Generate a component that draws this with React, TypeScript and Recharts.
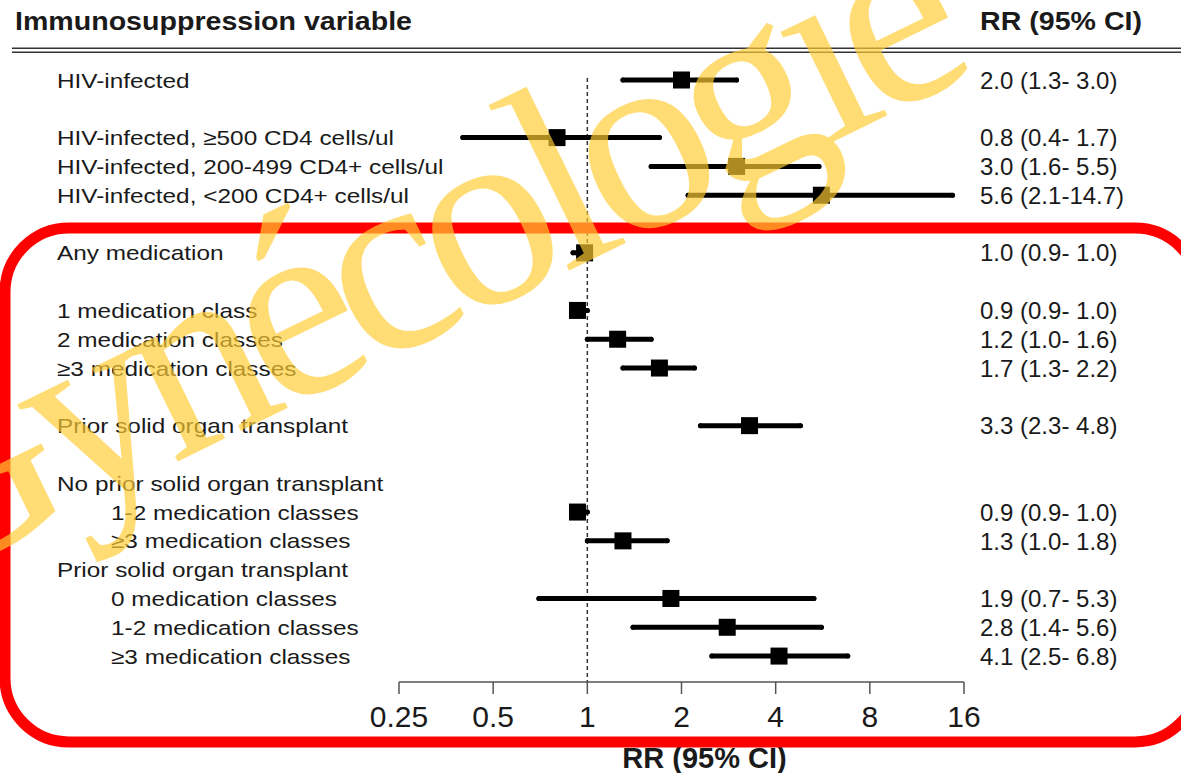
import React from 'react';
import { ScatterChart, Scatter, XAxis, YAxis, ErrorBar, ReferenceLine } from 'recharts';

const FONT = '"Liberation Sans", Arial, Helvetica, sans-serif';

// left column: every row label with its row position (0 = top)
const rowLabels = [
  'HIV-infected',
  'HIV-infected, ≥500 CD4 cells/ul',
  'HIV-infected, 200-499 CD4+ cells/ul',
  'HIV-infected, <200 CD4+ cells/ul',
  'Any medication',
  '1 medication class',
  '2 medication classes',
  '≥3 medication classes',
  'Prior solid organ transplant',
  'No prior solid organ transplant',
  '1-2 medication classes',
  '≥3 medication classes',
  'Prior solid organ transplant',
  '0 medication classes',
  '1-2 medication classes',
  '≥3 medication classes',
];
const rowPos = [0, 2, 3, 4, 6, 8, 9, 10, 12, 14, 15, 16, 17, 18, 19, 20];
const rowIndent = [false, false, false, false, false, false, false, false, false, false, true, true, false, true, true, true];

// estimates
const estimateRow = [0, 2, 3, 4, 6, 8, 9, 10, 12, 15, 16, 18, 19, 20];
const rr = [2.0, 0.8, 3.0, 5.6, 0.98, 0.93, 1.25, 1.7, 3.3, 0.93, 1.3, 1.85, 2.8, 4.1];
const lower = [1.3, 0.4, 1.6, 2.1, 0.9, 0.9, 1.0, 1.3, 2.3, 0.9, 1.0, 0.7, 1.4, 2.5];
const upper = [3.0, 1.7, 5.5, 14.7, 1.0, 1.0, 1.6, 2.2, 4.8, 1.0, 1.8, 5.3, 5.6, 6.8];
const ciText = [
  '2.0 (1.3- 3.0)',
  '0.8 (0.4- 1.7)',
  '3.0 (1.6- 5.5)',
  '5.6 (2.1-14.7)',
  '1.0 (0.9- 1.0)',
  '0.9 (0.9- 1.0)',
  '1.2 (1.0- 1.6)',
  '1.7 (1.3- 2.2)',
  '3.3 (2.3- 4.8)',
  '0.9 (0.9- 1.0)',
  '1.3 (1.0- 1.8)',
  '1.9 (0.7- 5.3)',
  '2.8 (1.4- 5.6)',
  '4.1 (2.5- 6.8)',
];

const xTicks = [0.25, 0.5, 1, 2, 4, 8, 16];

const data = estimateRow.map((row, i) => ({
  row,
  rr: rr[i],
  err: [rr[i] - lower[i], upper[i] - rr[i]],
}));

const LeftTick = (props: any) => {
  const { y, payload } = props;
  const i = rowPos.indexOf(payload.value);
  if (i < 0) return null;
  const x0 = rowIndent[i] ? 111 : 57;
  return (
    <text transform={`translate(${x0},${y}) scale(1.16,1)`} dy="0.36em" fontSize={21} fill="#1a1a1a" fontFamily={FONT}>
      {rowLabels[i]}
    </text>
  );
};

const RightTick = (props: any) => {
  const { y, payload } = props;
  const i = estimateRow.indexOf(payload.value);
  if (i < 0) return null;
  return (
    <text x={980} y={y} dy="0.36em" fontSize={24} fill="#1a1a1a" fontFamily={FONT}>
      {ciText[i]}
    </text>
  );
};

const Box = (props: any) => {
  const { cx, cy } = props;
  return <rect x={cx - 8.5} y={cy - 8.5} width={17} height={17} fill="#000" />;
};

export default function App() {
  return (
    <div style={{ position: 'absolute', left: 0, top: 0, width: 1181, height: 773, background: '#fff', fontFamily: FONT }}>
      <ScatterChart width={1181} height={773} margin={{ top: 65.6, right: 17, bottom: 31, left: 9 }}>
        <XAxis
          dataKey="rr"
          type="number"
          scale="log"
          domain={[0.25, 16]}
          allowDataOverflow
          ticks={xTicks}
          interval={0}
          tickFormatter={(v: number) => String(v)}
          tickSize={12}
          tickMargin={12}
          height={60}
          stroke="#555"
          strokeWidth={1.5}
          tick={{ fontSize: 30, fill: '#1a1a1a', fontFamily: FONT }}
          label={{ value: 'RR (95% CI)', position: 'bottom', offset: 5, dx: 23, fontSize: 29, fontWeight: 'bold', fill: '#1a1a1a', fontFamily: FONT }}
        />
        <YAxis
          yAxisId="left"
          dataKey="row"
          type="number"
          domain={[-0.5, 20.9]}
          allowDataOverflow
          reversed
          ticks={rowPos}
          interval={0}
          width={390}
          axisLine={false}
          tickLine={false}
          tick={LeftTick}
        />
        <YAxis
          yAxisId="right"
          orientation="right"
          type="number"
          domain={[-0.5, 20.9]}
          allowDataOverflow
          reversed
          ticks={estimateRow}
          interval={0}
          width={200}
          axisLine={false}
          tickLine={false}
          tick={RightTick}
        />
        <ReferenceLine
          yAxisId="left"
          segment={[{ x: 1, y: -0.07 }, { x: 1, y: 20.9 }]}
          stroke="#333"
          strokeWidth={1.5}
          strokeDasharray="4 3"
        />
        <Scatter yAxisId="left" data={data} dataKey="rr" shape={Box} isAnimationActive={false}>
          <ErrorBar dataKey="err" direction="x" width={0} stroke="#000" strokeWidth={5} strokeLinecap="round" isAnimationActive={false} />
        </Scatter>
      </ScatterChart>
      <svg width={1181} height={773} style={{ position: 'absolute', left: 0, top: 0, pointerEvents: 'none' }}>
        <text x={15} y={30} fontSize={25} fontWeight="bold" fill="#1a1a1a" fontFamily={FONT} textLength={397} lengthAdjust="spacingAndGlyphs">
          Immunosuppression variable
        </text>
        <text x={980} y={30} fontSize={25} fontWeight="bold" fill="#1a1a1a" fontFamily={FONT} textLength={162} lengthAdjust="spacingAndGlyphs">
          RR (95% CI)
        </text>
        <line x1={12} x2={1181} y1={48.3} y2={48.3} stroke="#333" strokeWidth={1.6} />
        <line x1={12} x2={1181} y1={52.3} y2={52.3} stroke="#333" strokeWidth={1.6} />
        <rect x={5} y={228} width={1194} height={514} rx={64} ry={64} fill="none" stroke="#ff0000" strokeWidth={11} />
        <text
          x={-90}
          y={592}
          fontSize={265}
          letterSpacing={-16}
          fontFamily='"Liberation Serif", "DejaVu Serif", serif'
          fill="#FFCC33"
          opacity={0.68}
          transform="rotate(-26 -90 592)"
        >
          Gynécologie
        </text>
      </svg>
    </div>
  );
}
